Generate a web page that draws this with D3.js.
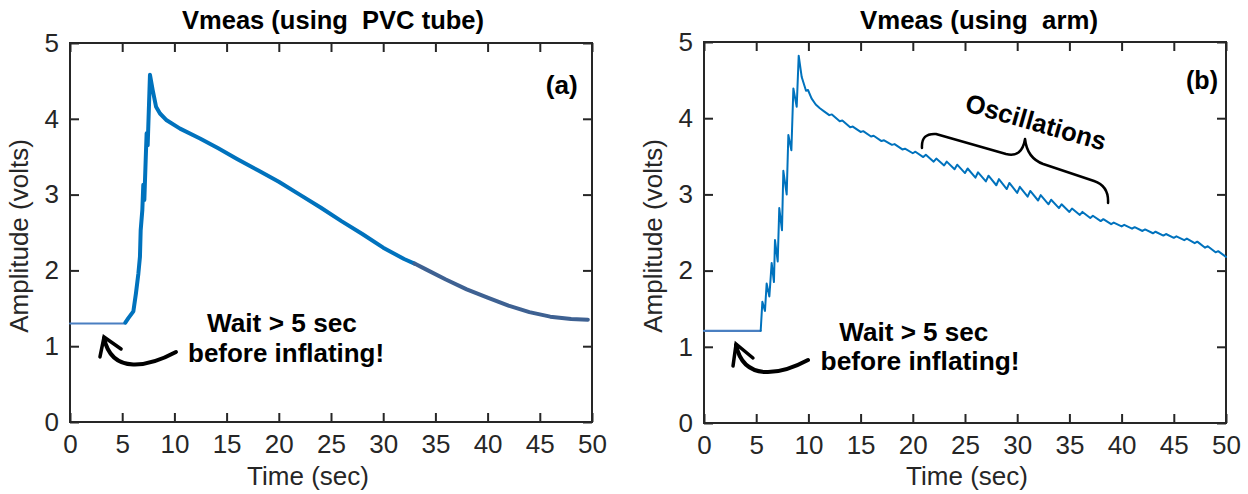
<!DOCTYPE html>
<html>
<head>
<meta charset="utf-8">
<script src="https://cdn.jsdelivr.net/npm/d3@7"></script>
<style>
  body { margin: 0; background: #fff; }
  svg { display: block; font-family: "Liberation Sans", Arial, Helvetica, sans-serif; }
  text { white-space: pre; }
</style>
</head>
<body>
<div id="chart"></div>
<script>
// ticks
const xTicks = [0, 5, 10, 15, 20, 25, 30, 35, 40, 45, 50];
const yTicks = [0, 1, 2, 3, 4, 5];

// (a) PVC tube: waiting part, main trace, tail
const pvcWaitT = [0, 5.3];
const pvcWaitV = [1.30, 1.30];
const pvcT = [5.3, 5.59, 6.07, 6.32, 6.55, 6.70, 6.77, 6.93, 7.02, 7.12, 7.25, 7.34, 7.44, 7.66, 7.92,
  8.24, 8.62, 9.26, 10.54, 12.45, 14.2, 16, 18, 20, 22, 24, 26, 28, 30, 32, 33];
const pvcV = [1.31, 1.37, 1.46, 1.70, 1.96, 2.18, 2.53, 2.80, 3.13, 2.93, 3.46, 3.81, 3.65, 4.58, 4.38,
  4.16, 4.07, 3.98, 3.87, 3.74, 3.61, 3.47, 3.32, 3.17, 3.00, 2.83, 2.65, 2.48, 2.30, 2.15, 2.09];
const pvcTailT = [33, 34, 36, 38, 40, 42, 44, 46, 48, 49.6];
const pvcTailV = [2.09, 2.02, 1.88, 1.75, 1.64, 1.535, 1.45, 1.39, 1.36, 1.35];

// (b) arm
const armWaitT = [0, 5.43];
const armWaitV = [1.21, 1.21];
const armT = [5.43, 5.59, 5.84, 6.0, 6.26, 6.48, 6.7, 6.8, 7.06, 7.21, 7.47, 7.6, 7.92, 8.08, 8.37,
  8.56, 8.88, 9.07, 9.36, 9.77, 9.96, 10.3, 10.7, 11.1, 11.5,
  12, 12.25, 13, 13.25, 14, 14.25, 15, 15.25, 16, 16.25, 17, 17.25, 18, 18.25, 19, 19.25,
  20, 20.25, 21, 21.25, 22, 22.25, 23, 23.25, 24, 24.25, 25, 25.25, 26, 26.25, 27, 27.25,
  28, 28.25, 29, 29.25, 30, 30.25, 31, 31.25, 32, 32.25, 33, 33.25, 34, 34.25, 35, 35.25,
  36, 36.25, 37, 37.25, 38, 38.25, 39, 39.25, 40, 40.25, 41, 41.25, 42, 42.25, 43, 43.25,
  44, 44.25, 45, 45.25, 46, 46.25, 47, 47.25, 48, 48.25, 49, 49.25, 50];
const armV = [1.21, 1.59, 1.47, 1.83, 1.66, 2.10, 1.85, 2.40, 2.12, 2.82, 2.53, 3.31, 3.00, 3.78, 3.58,
  4.39, 4.15, 4.82, 4.54, 4.36, 4.37, 4.26, 4.18, 4.13, 4.09,
  4.04, 4.05, 3.96, 3.97, 3.88, 3.89, 3.82, 3.83, 3.76, 3.77, 3.70, 3.71, 3.65, 3.66, 3.59, 3.60,
  3.54, 3.56, 3.49, 3.52, 3.43, 3.47, 3.38, 3.43, 3.33, 3.39, 3.28, 3.34, 3.22, 3.29, 3.17, 3.245,
  3.12, 3.20, 3.07, 3.15, 3.02, 3.10, 2.97, 3.045, 2.92, 2.99, 2.87, 2.93, 2.82, 2.87, 2.77, 2.815,
  2.73, 2.77, 2.69, 2.72, 2.65, 2.675, 2.61, 2.63, 2.58, 2.60, 2.55, 2.57, 2.52, 2.54, 2.49, 2.51,
  2.46, 2.48, 2.43, 2.45, 2.40, 2.42, 2.36, 2.38, 2.30, 2.32, 2.24, 2.255, 2.18];

const W = 1248, H = 494;
const ink = "#262626";

const svg = d3.select("#chart").append("svg")
  .attr("width", W)
  .attr("height", H);

const zip = (t, v) => t.map((d, i) => [d, v[i]]);

function panel(o) {
  const x = d3.scaleLinear().domain([0, 50]).range([o.left, o.right]);
  const y = d3.scaleLinear().domain([0, 5]).range([o.bottom, o.top]);
  const g = svg.append("g");

  // axes with inward ticks on all four sides
  g.append("g").attr("transform", `translate(0,${o.bottom})`)
    .call(d3.axisBottom(x).tickValues(xTicks).tickFormat(d3.format("d"))
      .tickSizeInner(-9).tickSizeOuter(0).tickPadding(13));
  g.append("g").attr("transform", `translate(0,${o.top})`)
    .call(d3.axisTop(x).tickValues(xTicks).tickSizeInner(-9).tickSizeOuter(0).tickFormat(""));
  g.append("g").attr("transform", `translate(${o.left},0)`)
    .call(d3.axisLeft(y).tickValues(yTicks).tickFormat(d3.format("d"))
      .tickSizeInner(-9).tickSizeOuter(0).tickPadding(11));
  g.append("g").attr("transform", `translate(${o.right},0)`)
    .call(d3.axisRight(y).tickValues(yTicks).tickSizeInner(-9).tickSizeOuter(0).tickFormat(""));

  g.selectAll(".domain").remove();
  g.selectAll(".tick line").attr("stroke", ink).attr("stroke-width", 2);
  g.selectAll(".tick text").attr("fill", ink).attr("font-size", 26)
    .attr("font-family", "'Liberation Sans', Arial, sans-serif");

  g.append("rect")
    .attr("x", o.left).attr("y", o.top)
    .attr("width", o.right - o.left).attr("height", o.bottom - o.top)
    .attr("fill", "none").attr("stroke", ink).attr("stroke-width", 2);

  // labels
  g.append("text")
    .attr("x", o.titleX).attr("y", 29)
    .attr("text-anchor", "middle").attr("font-weight", "bold").attr("font-size", 26)
    .attr("textLength", o.titleLen).attr("lengthAdjust", "spacingAndGlyphs")
    .attr("fill", "#000")
    .text(o.title);
  g.append("text")
    .attr("x", o.xLabelX).attr("y", 485)
    .attr("text-anchor", "middle").attr("font-size", 26).attr("fill", ink)
    .text("Time (sec)");
  g.append("text")
    .attr("transform", `translate(${o.left - 42},236) rotate(-90)`)
    .attr("text-anchor", "middle").attr("font-size", 26).attr("fill", ink)
    .text("Amplitude (volts)");

  return { g, x, y };
}

function trace(p, t, v, color, width) {
  const line = d3.line().x(d => p.x(d[0])).y(d => p.y(d[1]));
  p.g.append("path")
    .datum(zip(t, v))
    .attr("d", line)
    .attr("fill", "none")
    .attr("stroke", color)
    .attr("stroke-width", width)
    .attr("stroke-linejoin", "round")
    .attr("stroke-linecap", "round");
}

function label(p, tx, ty, str, len, size) {
  p.g.append("text")
    .attr("x", p.x(tx)).attr("y", p.y(ty))
    .attr("text-anchor", "middle").attr("font-weight", "bold")
    .attr("font-size", size || 26)
    .attr("textLength", len).attr("lengthAdjust", "spacingAndGlyphs")
    .attr("fill", "#000")
    .text(str);
}

function arrow(p, c, head) {
  const P = c.map(d => [p.x(d[0]), p.y(d[1])]);
  p.g.append("path")
    .attr("d", `M${P[0]}C${P[1]} ${P[2]} ${P[3]}`)
    .attr("fill", "none").attr("stroke", "#000").attr("stroke-width", 4)
    .attr("stroke-linecap", "round");
  p.g.append("path")
    .attr("d", d3.line()(head.map(d => [p.x(d[0]), p.y(d[1])])))
    .attr("fill", "none").attr("stroke", "#000").attr("stroke-width", 3.5)
    .attr("stroke-linecap", "round").attr("stroke-linejoin", "miter");
}

// ---- panel (a)
const pa = panel({ left: 70, right: 592, top: 43, bottom: 422,
  title: "Vmeas (using  PVC tube)", titleX: 333, titleLen: 302, xLabelX: 308 });

trace(pa, pvcWaitT, pvcWaitV, "#4a7fc1", 2);
trace(pa, pvcT, pvcV, "#0072BD", 4);
trace(pa, pvcTailT, pvcTailV, "#3e6192", 4);

label(pa, 47.1, 4.33, "(a)", 32);
label(pa, 20.3, 1.19, "Wait > 5 sec", 150);
label(pa, 20.7, 0.785, "before inflating!", 196);
arrow(pa, [[10.15, 0.923], [7.66, 0.739], [4.02, 0.607], [3.26, 1.108]],
  [[2.87, 0.858], [3.26, 1.121], [4.89, 0.963]]);

// ---- panel (b)
const pb = panel({ left: 704, right: 1226, top: 42, bottom: 423,
  title: "Vmeas (using  arm)", titleX: 979, titleLen: 238, xLabelX: 967 });

trace(pb, armWaitT, armWaitV, "#4a7fc1", 2.2);
trace(pb, armT, armV, "#0072BD", 2);

label(pb, 47.7, 4.38, "(b)", 32);
label(pb, 20.1, 1.076, "Wait > 5 sec", 149);
label(pb, 20.7, 0.702, "before inflating!", 199);
arrow(pb, [[9.96, 0.827], [7.47, 0.643], [3.83, 0.525], [3.07, 1.024]],
  [[2.78, 0.748], [3.07, 1.037], [4.69, 0.853]]);

// "Oscillations" with brace
pb.g.append("text")
  .attr("transform", `translate(${pb.x(31.8)},${pb.y(3.95)}) rotate(16)`)
  .attr("dy", "0.35em")
  .attr("text-anchor", "middle").attr("font-weight", "bold").attr("font-size", 26)
  .attr("textLength", 145).attr("lengthAdjust", "spacingAndGlyphs")
  .text("Oscillations");

const brace = [[20.88, 3.609], [20.79, 3.806], [22.22, 3.793], [28.93, 3.530], [30.46, 3.478],
  [30.75, 3.727], [30.94, 3.478], [32.49, 3.399], [37.36, 3.176], [38.79, 3.110], [38.70, 2.887]]
  .map(d => [pb.x(d[0]), pb.y(d[1])]);
const b = brace;
pb.g.append("path")
  .attr("d", `M${b[0]}Q${b[1]} ${b[2]}L${b[3]}Q${b[4]} ${b[5]}Q${b[6]} ${b[7]}L${b[8]}Q${b[9]} ${b[10]}`)
  .attr("fill", "none").attr("stroke", "#000").attr("stroke-width", 2.5)
  .attr("stroke-linejoin", "round").attr("stroke-linecap", "round");
</script>
</body>
</html>
